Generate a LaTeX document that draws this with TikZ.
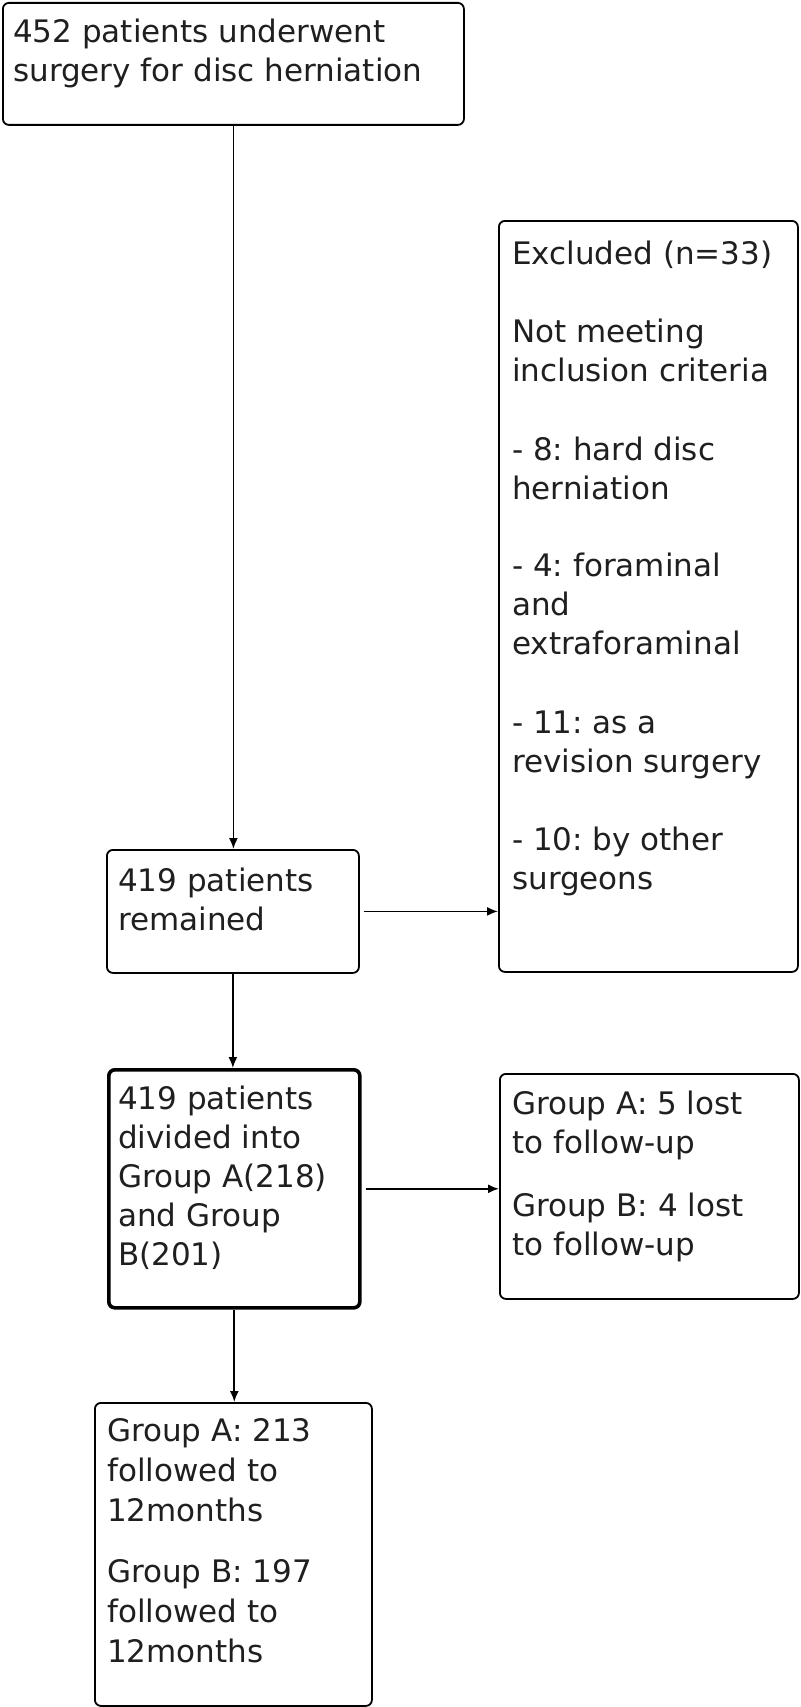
\documentclass[tikz,border=0pt]{standalone}
\usepackage{fontspec}
\setmainfont{DejaVu Sans}
\usetikzlibrary{arrows.meta,calc}
\frenchspacing
\begin{document}
\begin{tikzpicture}[x=1pt,y=-1pt,
  box/.style={draw=black, line width=1.8pt, rounded corners=6pt, anchor=north west, inner sep=0pt, fill=white},
  thickbox/.style={box, line width=3.6pt},
  txt/.style={anchor=base west, align=left, inner sep=0pt, font=\fontsize{31}{39}\selectfont\frenchspacing, text=black!88},
  arr/.style={line width=1.7pt, -{Latex[length=11pt,width=9pt]}}]
\useasboundingbox[fill=white] (0,0) rectangle (800,1707);
% boxes
\node[box, minimum width=461pt, minimum height=122pt] (b1) at (2,2) {};
\node[box, minimum width=252pt, minimum height=123pt] (b2) at (106,849) {};
\node[box, minimum width=299pt, minimum height=751pt] (exc) at (498,220) {};
\node[thickbox, minimum width=251pt, minimum height=238pt] (b3) at (107,1068) {};
\node[box, minimum width=299pt, minimum height=225pt] (lost) at (499,1073) {};
\node[box, minimum width=277pt, minimum height=303pt] (b4) at (94,1402) {};
% texts (anchored at the baseline of the last line)
\node[txt] (t1) at (13,82) {452 patients underwent\\surgery for disc herniation};
\node[txt] (t2) at (118,930) {419 patients\\remained};
\node[txt] (texc) at (512,889) {Excluded (n=33)\\[39pt]Not meeting\\inclusion criteria\\[40pt]- 8: hard disc\\herniation\\[38pt]- 4: foraminal\\and\\extraforaminal\\[40pt]- 11: as a\\revision surgery\\[39pt]- 10: by other\\surgeons};
\node[txt] (t3) at (118,1265) {419 patients\\divided into\\Group A(218)\\and Group\\B(201)};
\node[txt] (tlost) at (512,1255) {Group A: 5 lost\\to follow-up\\[24pt]Group B: 4 lost\\to follow-up};
\node[txt, font=\fontsize{31}{40}\selectfont\frenchspacing] (t4) at (107,1662) {Group A: 213\\followed to\\12months\\[21pt]Group B: 197\\followed to\\12months};
% connectors
\draw[arr] (b1.south) -- (b1.south |- b2.north);
\draw[arr] (b2.south) -- (b2.south |- b3.north);
\draw[arr] (b3.south) -- (b3.south |- b4.north);
\draw[arr, shorten <=4pt] (b2.east) -- (b2.east -| exc.west);
\draw[arr, shorten <=4pt] (b3.east) -- (b3.east -| lost.west);
\end{tikzpicture}
\end{document}
